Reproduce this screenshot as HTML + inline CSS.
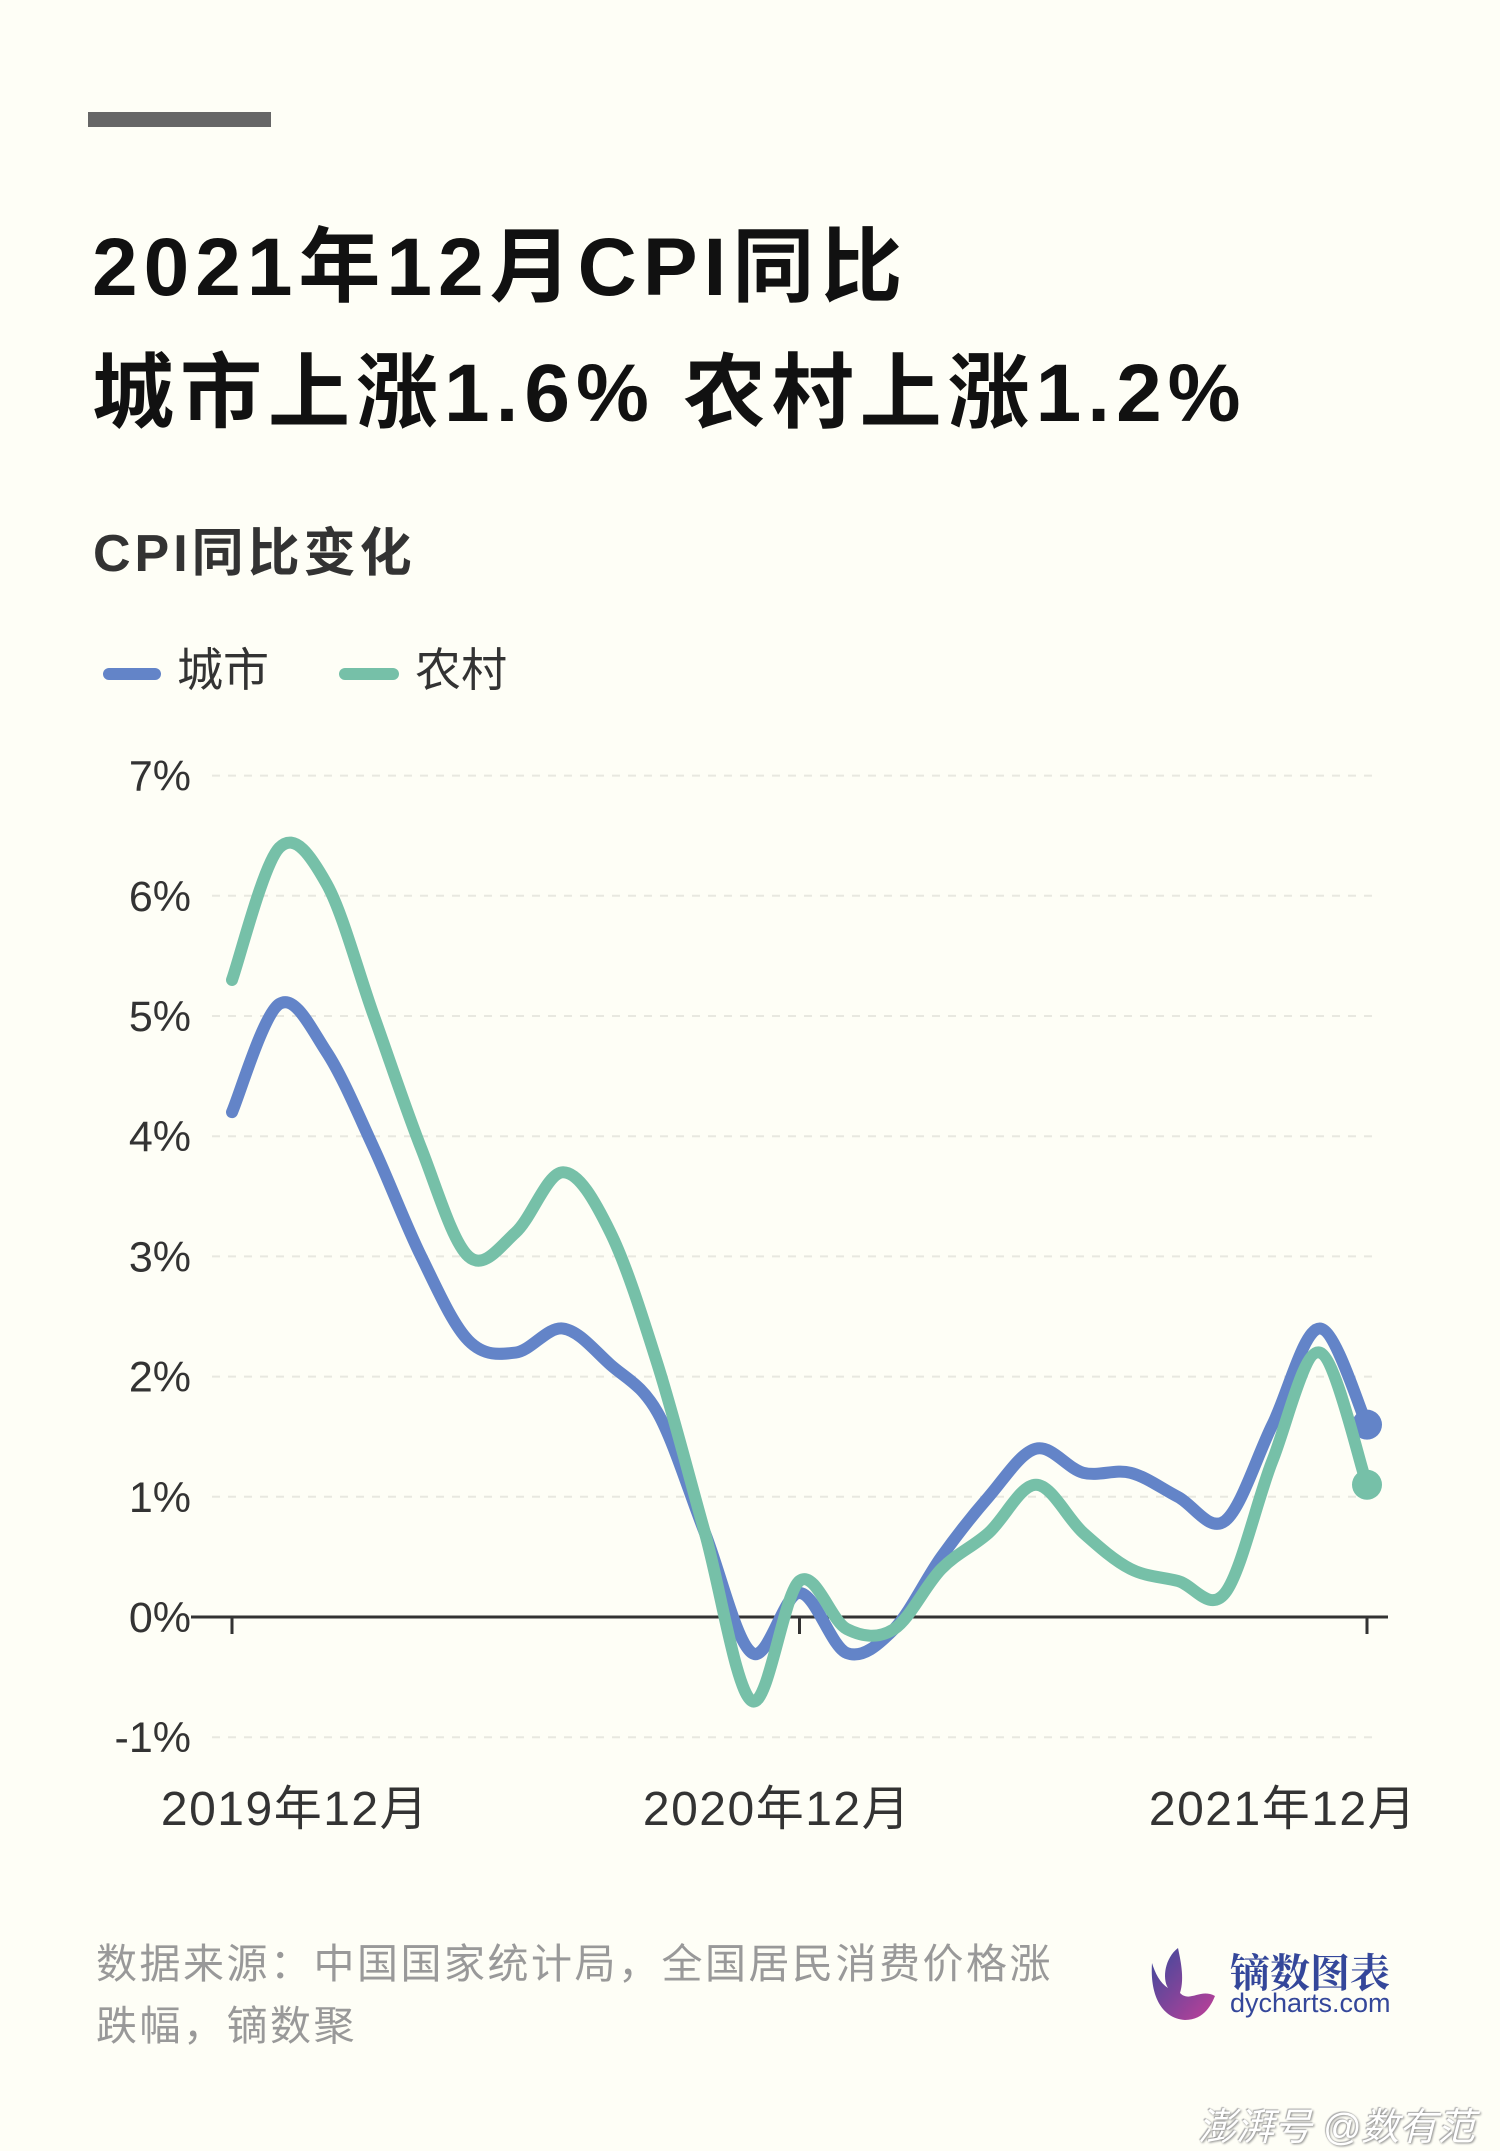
<!DOCTYPE html>
<html><head><meta charset="utf-8">
<style>
html,body{margin:0;padding:0;}
body{width:1500px;height:2148px;background:#fefef6;position:relative;overflow:hidden;font-family:"Liberation Sans","Noto Sans CJK SC",sans-serif;}
.abs{position:absolute;white-space:nowrap;}
</style></head><body>
<div class="abs" style="left:88px;top:112px;width:183px;height:15px;background:#666;"></div>
<div class="abs" style="left:92px;top:205px;font-size:82px;font-weight:bold;color:#111;line-height:126px;letter-spacing:6px;">2021年12月CPI同比<br>城市上涨1.6% 农村上涨1.2%</div>
<div class="abs" style="left:93px;top:511px;font-size:52px;font-weight:bold;color:#333;letter-spacing:4px;">CPI同比变化</div>
<div class="abs" style="left:103px;top:634px;font-size:46px;color:#333;">
<span style="display:inline-block;width:58px;height:12px;border-radius:6px;background:#6384c8;vertical-align:middle;margin-right:16px;"></span>城市</div>
<div class="abs" style="left:339px;top:634px;font-size:46px;color:#333;">
<span style="display:inline-block;width:60px;height:12px;border-radius:6px;background:#76c0a8;vertical-align:middle;margin-right:16px;"></span>农村</div>

<svg class="abs" style="left:0;top:0" width="1500" height="2148" id="chart"></svg>

<div class="abs" style="left:96px;top:1933px;font-size:41px;color:#999;line-height:62px;letter-spacing:2.5px;">数据来源：中国国家统计局，全国居民消费价格涨<br>跌幅，镝数聚</div>
<div class="abs" style="left:1150px;top:1948px;">
<svg width="70" height="75" style="position:absolute;left:0;top:0"><defs><linearGradient id="lg" x1="0" y1="0" x2="1" y2="1"><stop offset="0" stop-color="#3b4a9c"/><stop offset="1" stop-color="#c03f98"/></linearGradient></defs>
<path d="M2 15 C0 45 10 70 35 72 C55 72 62 55 65 48 C50 40 40 55 30 45 C35 30 30 10 28 0 C15 10 12 30 18 40 C10 35 5 25 2 15Z" fill="url(#lg)"/></svg>
<div style="position:absolute;left:80px;top:-6px;font-family:'Noto Serif CJK SC',serif;font-weight:bold;font-size:40px;color:#34479a;">镝数图表</div>
<div style="position:absolute;left:80px;top:40px;font-size:27px;color:#34479a;">dycharts.com</div>
</div>
<div class="abs" style="left:1198px;top:2096px;font-size:38px;font-style:italic;color:#fff;text-shadow:1px 1px 2px #888,-1px -1px 1px #aaa;">澎湃号 @数有范</div>

<script>
const categories=["2019-12","2020-01","2020-02","2020-03","2020-04","2020-05","2020-06","2020-07","2020-08","2020-09","2020-10","2020-11","2020-12","2021-01","2021-02","2021-03","2021-04","2021-05","2021-06","2021-07","2021-08","2021-09","2021-10","2021-11","2021-12"];
const urban=[4.2,5.1,4.7,3.9,3.0,2.3,2.2,2.4,2.1,1.7,0.7,-0.3,0.2,-0.3,-0.1,0.5,1.0,1.4,1.2,1.2,1.0,0.8,1.6,2.4,1.6];
const rural=[5.3,6.4,6.1,5.0,3.9,3.0,3.2,3.7,3.2,2.1,0.7,-0.7,0.3,-0.1,-0.1,0.4,0.7,1.1,0.7,0.4,0.3,0.2,1.3,2.2,1.1];
const yTicks=[-1,0,1,2,3,4,5,6,7];
const xLabels=[{i:0,t:"2019年12月"},{i:12,t:"2020年12月"},{i:24,t:"2021年12月"}];

const NS="http://www.w3.org/2000/svg";
const svg=document.getElementById('chart');
const x0=232,x1=1367,yZero=1617,yUnit=120.2;
const xs=i=>x0+(x1-x0)*i/(categories.length-1);
const ys=v=>yZero-v*yUnit;
function mk(tag,attrs){const e=document.createElementNS(NS,tag);for(const k in attrs)e.setAttribute(k,attrs[k]);svg.appendChild(e);return e;}
yTicks.forEach(v=>{
  if(v!==0){const g=mk('line',{x1:212,x2:1378,y1:ys(v),y2:ys(v),stroke:'#e8e8e0','stroke-width':2,'stroke-dasharray':'8 8'});
  
  }
  const t=mk('text',{x:191,y:ys(v)+15,'text-anchor':'end','font-size':43,fill:'#333','font-family':'Liberation Sans, sans-serif'});
  t.textContent=v+'%';
  
  
});
const ax=mk('line',{x1:191,x2:1388,y1:yZero,y2:yZero,stroke:'#333','stroke-width':3});


xLabels.forEach(l=>{
  const tk=mk('line',{x1:xs(l.i),x2:xs(l.i),y1:yZero,y2:yZero+17,stroke:'#333','stroke-width':3});
  
  
});
xLabels.forEach((l,k)=>{
  const cx=[295,777,1283][k];
  const t=mk('text',{x:cx,y:1825,'text-anchor':'middle','font-size':48,'letter-spacing':1.5,fill:'#333','font-family':'Liberation Sans, Noto Sans CJK SC, sans-serif'});
  t.textContent=l.t;
  
  
});
function pathFor(vals){
  const p=vals.map((v,i)=>[xs(i),ys(v)]);
  let d='M'+p[0][0]+','+p[0][1];
  for(let i=0;i<p.length-1;i++){
    const a=p[Math.max(0,i-1)],b=p[i],c=p[i+1],e=p[Math.min(p.length-1,i+2)];
    const t=1/3;
    d+=' C'+(b[0]+(c[0]-a[0])*t/2)+','+(b[1]+(c[1]-a[1])*t/2)+' '+(c[0]-(e[0]-b[0])*t/2)+','+(c[1]-(e[1]-b[1])*t/2)+' '+c[0]+','+c[1];
  }
  return d;
}
[[urban,'#6384c8','line-urban'],[rural,'#76c0a8','line-rural']].forEach(([vals,col,name])=>{
  const l=mk('path',{d:pathFor(vals),fill:'none',stroke:col,'stroke-width':12,'stroke-linecap':'round','stroke-linejoin':'round'});
  
  
  const n=vals.length-1;
  const c=mk('circle',{cx:xs(n),cy:ys(vals[n]),r:15,fill:col});
  
  
});
</script>
</body></html>
